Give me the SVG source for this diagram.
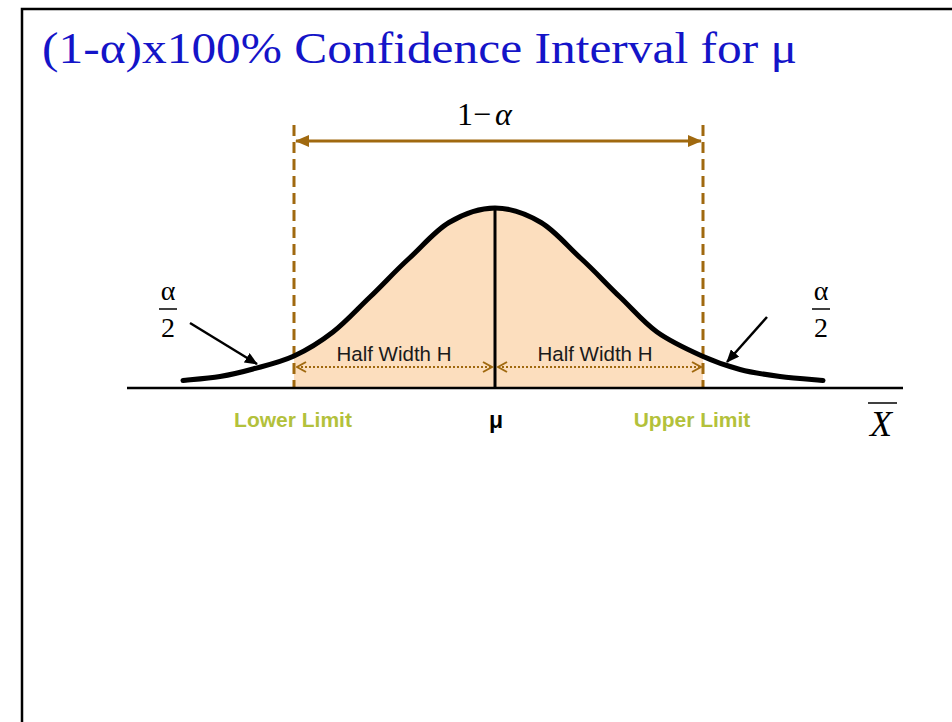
<svg xmlns="http://www.w3.org/2000/svg" width="952" height="722" viewBox="0 0 952 722">
<style>
.serif{font-family:"Liberation Serif","Times New Roman",serif;}
.sans{font-family:"Liberation Sans",Arial,sans-serif;}
.gold{stroke:#A0690F;}
.lim{font-family:"Liberation Sans",Arial,sans-serif;font-weight:bold;font-size:21px;fill:#B3C13B;text-anchor:middle;}
.hw{font-family:"Liberation Sans",Arial,sans-serif;font-size:20.5px;fill:#1a1a1a;text-anchor:middle;}
.frac{font-family:"Liberation Serif","Times New Roman",serif;font-size:28px;fill:#000;text-anchor:middle;}
</style>
<defs>
<marker id="tri" markerUnits="userSpaceOnUse" markerWidth="14" markerHeight="14" viewBox="0 0 14 14" refX="13" refY="7" orient="auto-start-reverse"><path d="M0,1 L14,7 L0,13 Z" fill="#A0690F"/></marker>
<marker id="blk" markerUnits="userSpaceOnUse" markerWidth="13" markerHeight="11" viewBox="0 0 13 11" refX="12" refY="5.5" orient="auto"><path d="M0,0 L13,5.5 L0,11 Z" fill="#000"/></marker>
<marker id="chev" markerUnits="userSpaceOnUse" markerWidth="12" markerHeight="12" viewBox="0 0 12 12" refX="10.5" refY="6" orient="auto-start-reverse"><path d="M1.5,1 L10.5,6 L1.5,11" fill="none" stroke="#A0690F" stroke-width="2"/></marker>
</defs>
<rect width="952" height="722" fill="#fff"/>
<g id="frame" fill="none" stroke="#000" stroke-width="2.5">
<path d="M22,722 L22,9 L952,9"/>
</g>
<g id="title">
<text class="serif" x="42" y="63" font-size="44" fill="#1414C8" textLength="755" lengthAdjust="spacingAndGlyphs">(1-α)x100% Confidence Interval for μ</text>
</g>
<g id="area">
<path d="M294,388 L294,356 C307.33,349.83 320.33,341.83 333,332 C345.67,322.17 357.33,309 370,297 C382.67,285 395.67,270.5 409,258.5 C422.33,246.5 434.67,231 449,222.5 C463.33,214 480,208 495,208 C510,208 526.67,214 541,222.5 C555.33,231 567.67,246.5 581,258.5 C594.33,270.5 607.33,285 620,297 C632.67,309 643.33,322.17 657,332 C670.67,341.83 688.17,349.75 702,356 L703,356.4 L703,388 Z" fill="#FCDEBE"/>
</g>
<g id="center-line">
<line x1="495" y1="208" x2="495" y2="388" stroke="#000" stroke-width="3"/>
</g>
<g id="half-width-left">
<text class="hw" x="394" y="361">Half Width H</text>
</g>
<g id="half-width-right">
<text class="hw" x="595" y="361">Half Width H</text>
</g>
<g id="lower-limit">
<line x1="294" y1="125" x2="294" y2="388" class="gold" stroke-width="3" stroke-dasharray="11 6"/>
<text class="lim" x="293" y="427">Lower Limit</text>
</g>
<g id="upper-limit">
<line x1="703" y1="125" x2="703" y2="388" class="gold" stroke-width="3" stroke-dasharray="11 6"/>
<text class="lim" x="692" y="427">Upper Limit</text>
</g>
<g id="curve">
<path d="M183,380.5 C189.17,379.83 208.33,378.42 220,376.5 C231.67,374.58 240.67,372.42 253,369 C265.33,365.58 280.67,362.17 294,356 C307.33,349.83 320.33,341.83 333,332 C345.67,322.17 357.33,309 370,297 C382.67,285 395.67,270.5 409,258.5 C422.33,246.5 434.67,231 449,222.5 C463.33,214 480,208 495,208 C510,208 526.67,214 541,222.5 C555.33,231 567.67,246.5 581,258.5 C594.33,270.5 607.33,285 620,297 C632.67,309 643.33,322.17 657,332 C670.67,341.83 688.17,349.75 702,356 C715.83,362.25 727,366.08 740,369.5 C753,372.92 766.17,374.67 780,376.5 C793.83,378.33 815.83,379.83 823,380.5" fill="none" stroke="#000" stroke-width="5" stroke-linecap="round"/>
</g>
<g id="axis">
<line x1="127" y1="388" x2="903" y2="388" stroke="#000" stroke-width="2.5"/>
</g>
<g id="mu-label">
<text class="sans" x="496" y="428" font-size="23" font-weight="bold" text-anchor="middle">μ</text>
</g>
<g id="xbar">
<text class="serif" x="881" y="436" font-size="36" font-style="italic" text-anchor="middle">X</text>
<line x1="868" y1="403" x2="897" y2="403" stroke="#000" stroke-width="1.5"/>
</g>
<g id="one-minus-alpha">
<text class="serif" font-size="32" y="125"><tspan x="457">1</tspan><tspan x="473">−</tspan><tspan x="495" font-style="italic">α</tspan></text>
</g>
<g id="alpha-half-left">
<text class="frac" x="168" y="300">α</text>
<line x1="159" y1="309" x2="177" y2="309" stroke="#000" stroke-width="1.5"/>
<text class="frac" x="168" y="337">2</text>
</g>
<g id="alpha-half-right">
<text class="frac" x="821" y="300">α</text>
<line x1="812" y1="309" x2="830" y2="309" stroke="#000" stroke-width="1.5"/>
<text class="frac" x="821" y="337">2</text>
</g>
<g id="connectors">
<line x1="296" y1="141" x2="701" y2="141" class="gold" stroke-width="3" marker-start="url(#tri)" marker-end="url(#tri)"/>
<line x1="297" y1="367" x2="492" y2="367" class="gold" stroke-width="2" stroke-dasharray="2 2" marker-start="url(#chev)" marker-end="url(#chev)"/>
<line x1="498" y1="367" x2="701" y2="367" class="gold" stroke-width="2" stroke-dasharray="2 2" marker-start="url(#chev)" marker-end="url(#chev)"/>
<line x1="190" y1="323" x2="257" y2="364" stroke="#000" stroke-width="2.5" marker-end="url(#blk)"/>
<line x1="767" y1="317" x2="727" y2="362" stroke="#000" stroke-width="2.5" marker-end="url(#blk)"/>
</g>
</svg>
